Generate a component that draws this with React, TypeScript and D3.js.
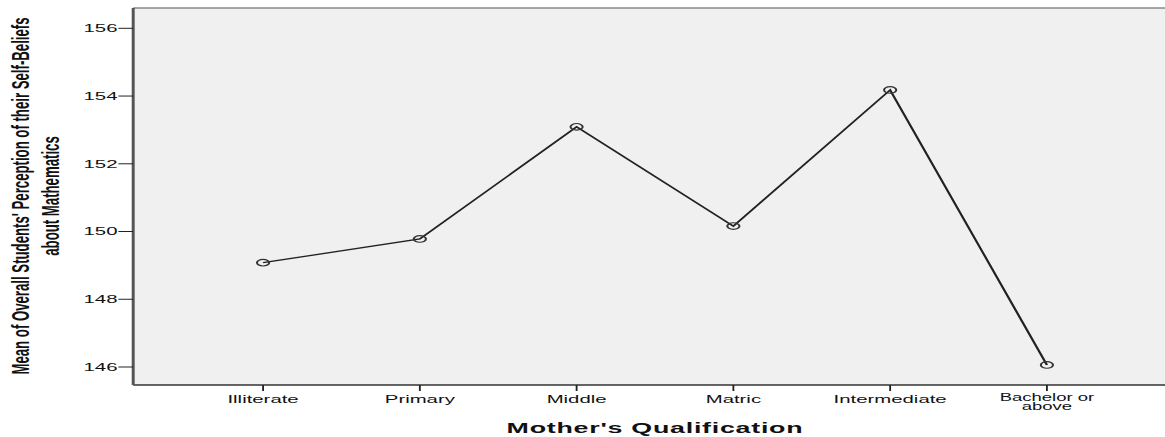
import React, { useEffect } from 'react';
import * as d3 from 'd3';

// category labels (a label may span two lines)
const categories = ['Illiterate', 'Primary', 'Middle', 'Matric', 'Intermediate', 'Bachelor or above'];
const categoryLines = [['Illiterate'], ['Primary'], ['Middle'], ['Matric'], ['Intermediate'], ['Bachelor or', 'above']];
const meanValues = [149.08, 149.78, 153.09, 150.16, 154.18, 146.06];
const yTicks = [146, 148, 150, 152, 154, 156];

const yTitleLines = ["Mean of Overall Students' Perception of their Self-Beliefs", 'about Mathematics'];
const xTitle = "Mother's Qualification";

// the original picture is stretched horizontally, so draw narrow and stretch
const SCREEN_W = 1165;
const SCREEN_H = 437;
const SX = 1.85;
const W = SCREEN_W / SX;

const FONT = "'Liberation Sans', Arial, sans-serif";

export default function App() {
  useEffect(() => {
    document.body.style.margin = '0';
  }, []);

  const plot = { left: 72, top: 8, bottom: 385, right: W + 10 };

  const x = d3.scalePoint<string>().domain(categories).range([142.2, 565.9]);
  const y = d3.scaleLinear().domain([146, 156]).range([367, 28.3]);

  const line = d3
    .line<number>()
    .x((_, i) => x(categories[i]) ?? 0)
    .y((d) => y(d));

  const xMid = ((x(categories[0]) ?? 0) + (x(categories[categories.length - 1]) ?? 0)) / 2;

  return (
    <svg
      width={SCREEN_W}
      height={SCREEN_H}
      viewBox={`0 0 ${W} ${SCREEN_H}`}
      preserveAspectRatio="none"
      style={{ display: 'block', background: '#fff' }}
    >
      {/* plot area */}
      <rect x={plot.left} y={plot.top} width={plot.right - plot.left} height={plot.bottom - plot.top} fill="#f0f0f0" />
      <line x1={plot.left} x2={plot.right} y1={plot.top} y2={plot.top} stroke="#888" strokeWidth={1.4} />
      <line x1={plot.left} x2={plot.right} y1={plot.bottom} y2={plot.bottom} stroke="#333" strokeWidth={1.3} />
      <line x1={plot.left} x2={plot.left} y1={plot.top} y2={plot.bottom} stroke="#555" strokeWidth={1.6} />

      {/* y axis ticks */}
      {yTicks.map((t) => (
        <g key={t}>
          <line x1={plot.left - 8} x2={plot.left} y1={y(t)} y2={y(t)} stroke="#222" strokeWidth={1} />
          <text
            x={plot.left - 8.5}
            y={y(t)}
            dy="0.35em"
            textAnchor="end"
            fontFamily={FONT}
            fontSize={11}
            fill="#111"
          >
            {t}
          </text>
        </g>
      ))}

      {/* x axis ticks */}
      {categories.map((c, i) => (
        <g key={c}>
          <line x1={x(c)} x2={x(c)} y1={plot.bottom} y2={plot.bottom + 6} stroke="#222" strokeWidth={1} />
          {categoryLines[i].map((ln, j) => (
            <text
              key={ln}
              x={x(c)}
              y={(categoryLines[i].length > 1 ? 401.5 : 403) + j * 9}
              textAnchor="middle"
              fontFamily={FONT}
              fontSize={categoryLines[i].length > 1 ? 10 : 11}
              fill="#111"
            >
              {ln}
            </text>
          ))}
        </g>
      ))}

      {/* data line and markers */}
      <path d={line(meanValues) ?? ''} fill="none" stroke="#222" strokeWidth={1.3} />
      {meanValues.map((v, i) => (
        <circle key={i} cx={x(categories[i])} cy={y(v)} r={3.3} fill="none" stroke="#333" strokeWidth={1.1} />
      ))}

      {/* titles */}
      <text
        x={xMid}
        y={433}
        textAnchor="middle"
        fontFamily={FONT}
        fontWeight="bold"
        fontSize={14.5}
        letterSpacing={0.4}
        fill="#111"
      >
        {xTitle}
      </text>
      {yTitleLines.map((ln, i) => (
        <text
          key={ln}
          transform={`translate(${15.5 + i * 16.6},196) rotate(-90)`}
          textAnchor="middle"
          fontFamily={FONT}
          fontWeight="bold"
          fontSize={13.2}
          fill="#111"
        >
          {ln}
        </text>
      ))}
    </svg>
  );
}
